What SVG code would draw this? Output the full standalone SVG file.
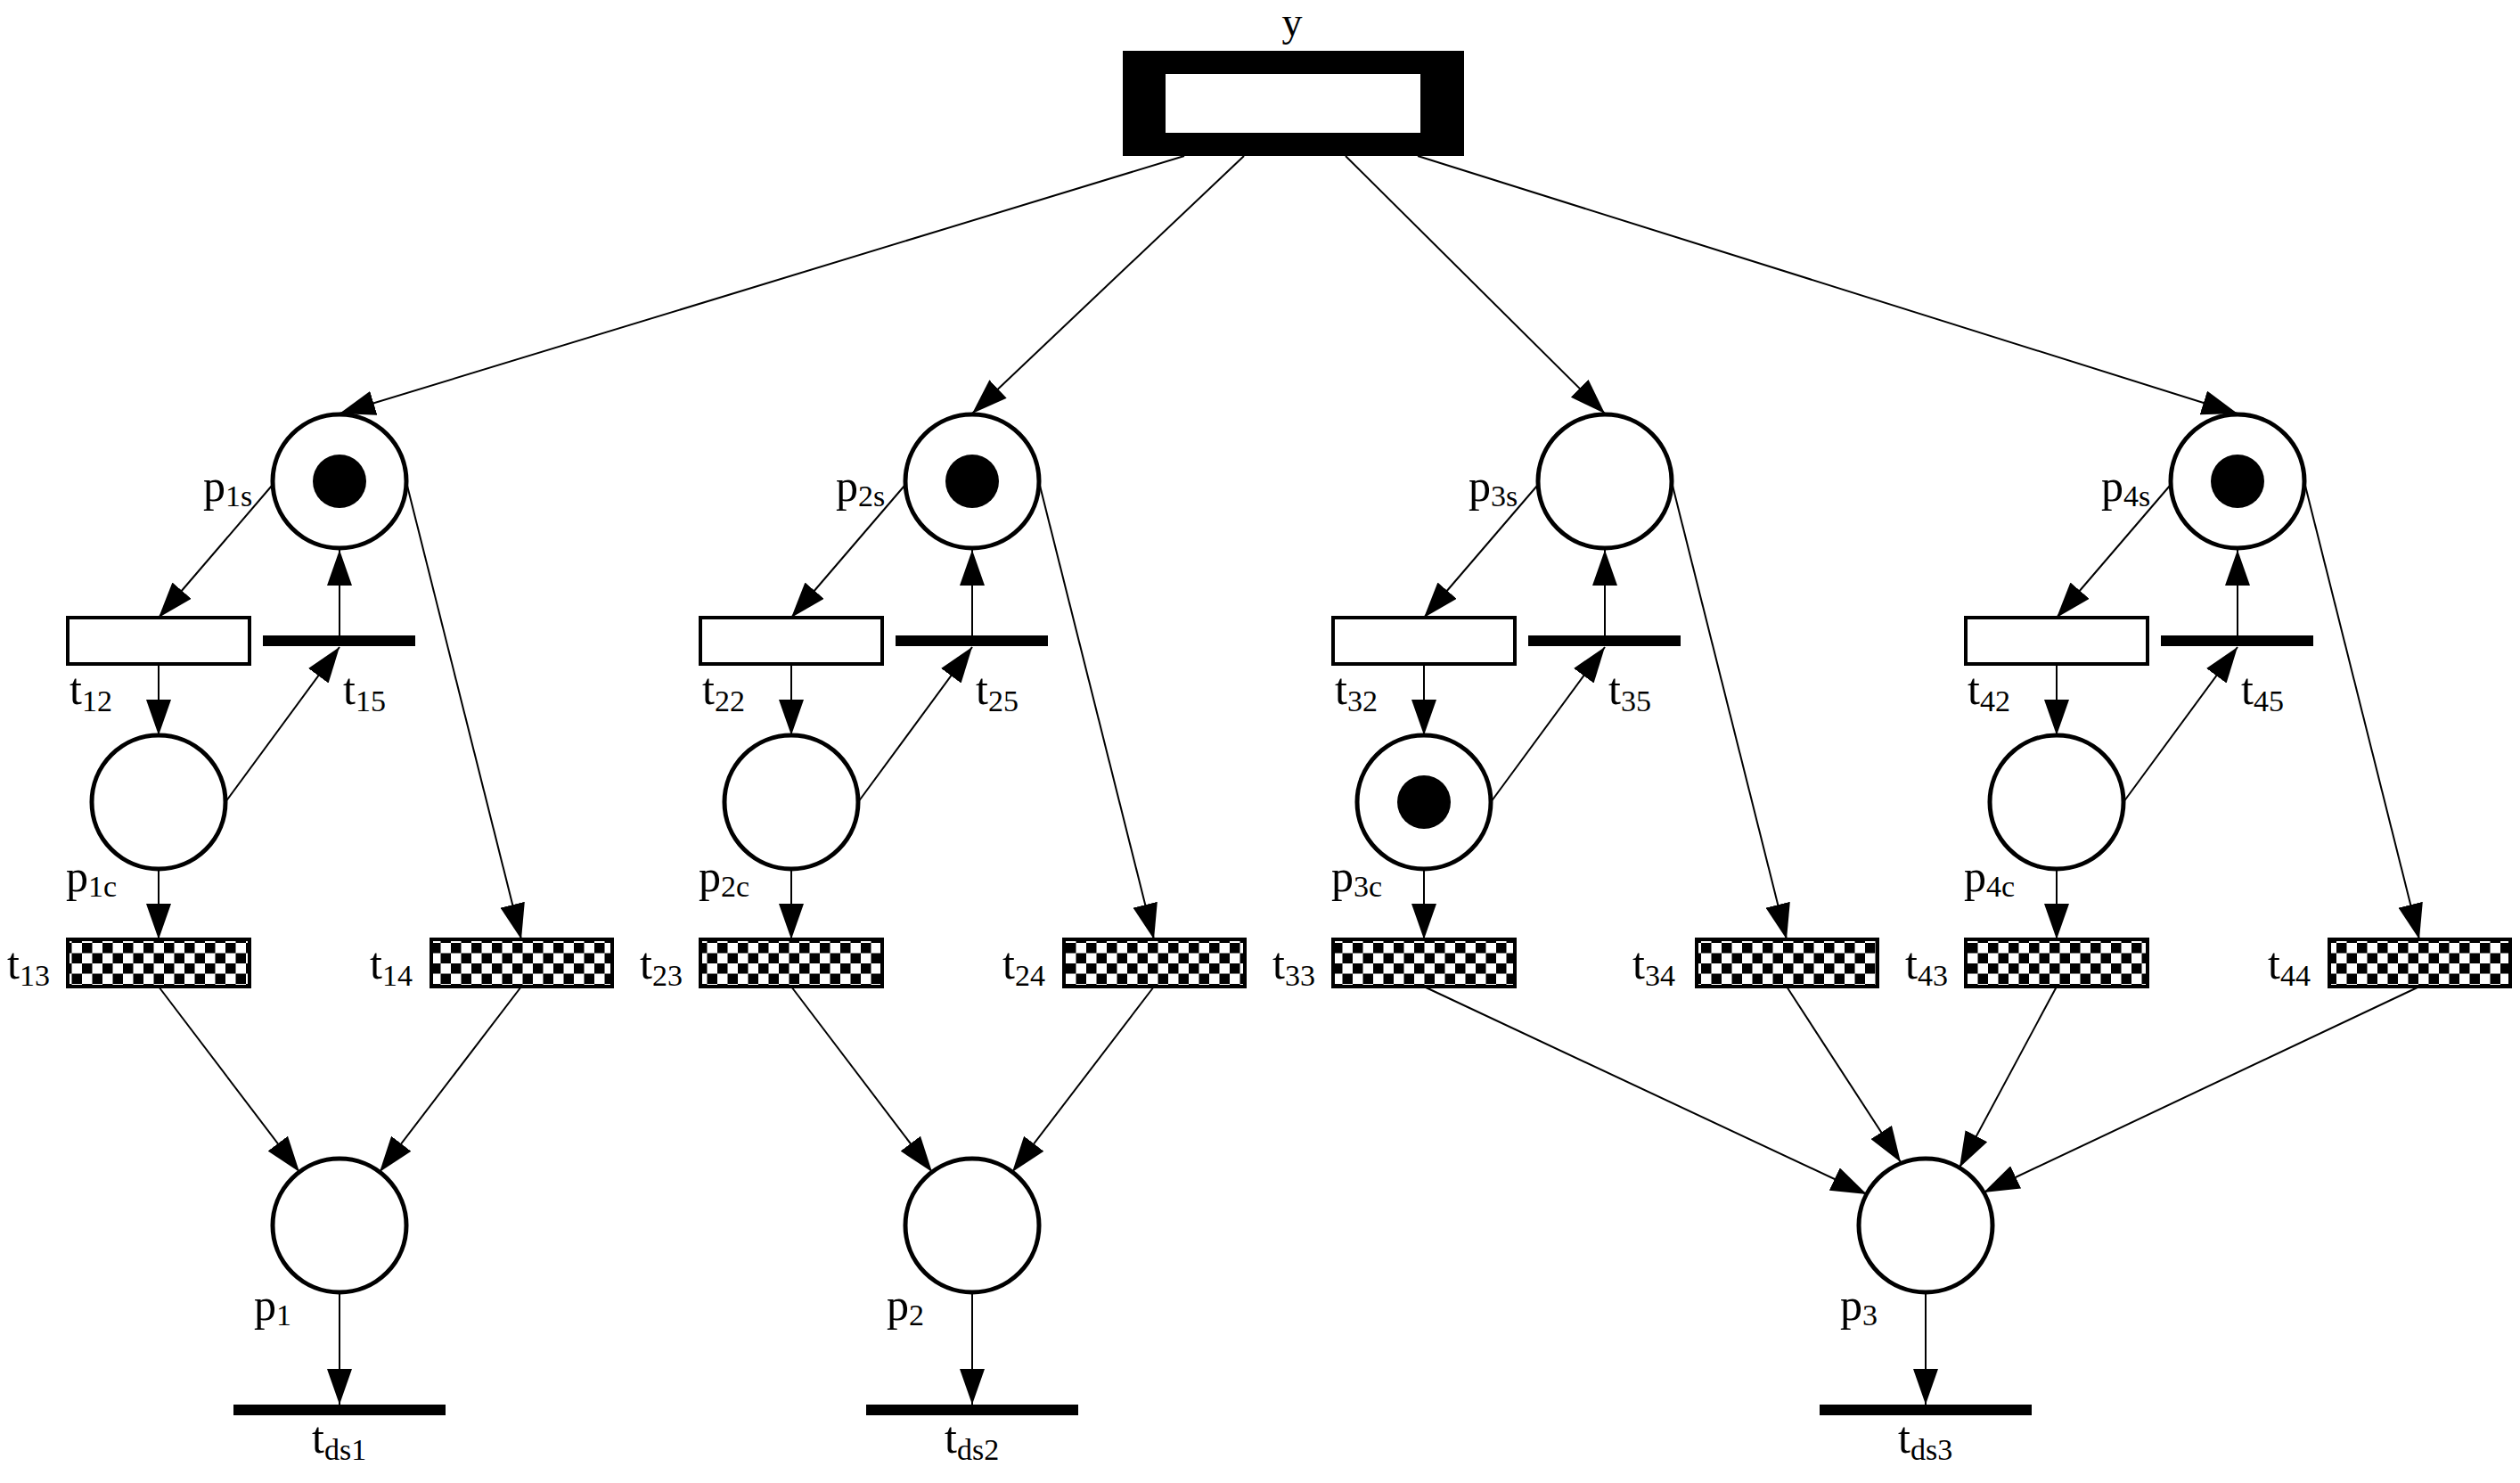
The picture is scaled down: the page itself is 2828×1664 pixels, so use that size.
<svg xmlns="http://www.w3.org/2000/svg" width="2828" height="1664" viewBox="0 0 2828 1664">
<defs>
<marker id="ah" markerUnits="userSpaceOnUse" markerWidth="40" markerHeight="28" refX="40" refY="14" orient="auto"><path d="M0,0 L40,14 L0,28 z" fill="#000"/></marker>
<pattern id="chk" patternUnits="userSpaceOnUse" width="23" height="23"><rect width="23" height="23" fill="#fff"/><rect width="11.5" height="11.5" fill="#000"/><rect x="11.5" y="11.5" width="11.5" height="11.5" fill="#000"/></pattern>
</defs>
<style>
.pl{fill:#fff;stroke:#000;stroke-width:5}
.tk{fill:#000}
.tw{fill:#fff;stroke:#000;stroke-width:4}
.tc{fill:url(#chk);stroke:#000;stroke-width:4}
.bar{fill:#000}
.c line{stroke:#000;stroke-width:2;marker-end:url(#ah)}
text{font-family:"Liberation Serif","Times New Roman",serif;font-size:50px;fill:#000}
tspan{font-size:34px}
</style>
<rect width="2828" height="1664" fill="#fff"/>
<g id="y"><rect x="1260" y="57" width="383" height="118" fill="#000"/><rect x="1308" y="83" width="286" height="66" fill="#fff"/><text x="1450" y="40" text-anchor="middle" style="font-size:46px">y</text></g>
<g class="c" id="connectors">
<line x1="1329" y1="175" x2="381" y2="464"/>
<line x1="1396" y1="175" x2="1091" y2="464"/>
<line x1="1510" y1="175" x2="1801" y2="464"/>
<line x1="1591" y1="175" x2="2511" y2="464"/>
<line x1="305" y1="545" x2="178" y2="693"/><line x1="381" y1="713" x2="381" y2="617"/><line x1="253" y1="900" x2="381" y2="726"/><line x1="457" y1="545" x2="585" y2="1054"/><line x1="178" y1="745" x2="178" y2="825"/><line x1="178" y1="975" x2="178" y2="1054"/><line x1="178" y1="1107" x2="336" y2="1315"/><line x1="585" y1="1107" x2="426" y2="1315"/><line x1="381" y1="1450" x2="381" y2="1576"/>
<line x1="1015" y1="545" x2="888" y2="693"/><line x1="1091" y1="713" x2="1091" y2="617"/><line x1="963" y1="900" x2="1091" y2="726"/><line x1="1167" y1="545" x2="1295" y2="1054"/><line x1="888" y1="745" x2="888" y2="825"/><line x1="888" y1="975" x2="888" y2="1054"/><line x1="888" y1="1107" x2="1046" y2="1315"/><line x1="1295" y1="1107" x2="1136" y2="1315"/><line x1="1091" y1="1450" x2="1091" y2="1576"/>
<line x1="1725" y1="545" x2="1598" y2="693"/><line x1="1801" y1="713" x2="1801" y2="617"/><line x1="1673" y1="900" x2="1801" y2="726"/><line x1="1877" y1="545" x2="2005" y2="1054"/><line x1="1598" y1="745" x2="1598" y2="825"/><line x1="1598" y1="975" x2="1598" y2="1054"/>
<line x1="2435" y1="545" x2="2308" y2="693"/><line x1="2511" y1="713" x2="2511" y2="617"/><line x1="2383" y1="900" x2="2511" y2="726"/><line x1="2587" y1="545" x2="2715" y2="1054"/><line x1="2308" y1="745" x2="2308" y2="825"/><line x1="2308" y1="975" x2="2308" y2="1054"/>
<line x1="1598" y1="1107" x2="2095" y2="1340"/><line x1="2005" y1="1107" x2="2133" y2="1304"/><line x1="2308" y1="1107" x2="2199" y2="1310"/><line x1="2715" y1="1107" x2="2226" y2="1338"/><line x1="2161" y1="1450" x2="2161" y2="1576"/>
</g>
<g id="col1">
<circle class="pl" cx="381" cy="540" r="75"/><circle class="tk" cx="381" cy="540" r="30"/><text x="228" y="562">p<tspan dy="6">1s</tspan></text>
<rect class="tw" x="76" y="693" width="204" height="52"/><text x="78" y="790">t<tspan dy="8">12</tspan></text>
<rect class="bar" x="295" y="713" width="171" height="12"/><text x="385" y="790">t<tspan dy="8">15</tspan></text>
<circle class="pl" cx="178" cy="900" r="75"/><text x="74" y="1000">p<tspan dy="6">1c</tspan></text>
<rect class="tc" x="76" y="1054" width="204" height="53"/><text x="8" y="1098">t<tspan dy="8">13</tspan></text>
<rect class="tc" x="484" y="1054" width="203" height="53"/><text x="415" y="1098">t<tspan dy="8">14</tspan></text>
<circle class="pl" cx="381" cy="1375" r="75"/><text x="285" y="1481">p<tspan dy="6">1</tspan></text>
<rect class="bar" x="262" y="1576" width="238" height="12"/><text x="350" y="1630">t<tspan dy="8">ds1</tspan></text>
</g>
<g id="col2">
<circle class="pl" cx="1091" cy="540" r="75"/><circle class="tk" cx="1091" cy="540" r="30"/><text x="938" y="562">p<tspan dy="6">2s</tspan></text>
<rect class="tw" x="786" y="693" width="204" height="52"/><text x="788" y="790">t<tspan dy="8">22</tspan></text>
<rect class="bar" x="1005" y="713" width="171" height="12"/><text x="1095" y="790">t<tspan dy="8">25</tspan></text>
<circle class="pl" cx="888" cy="900" r="75"/><text x="784" y="1000">p<tspan dy="6">2c</tspan></text>
<rect class="tc" x="786" y="1054" width="204" height="53"/><text x="718" y="1098">t<tspan dy="8">23</tspan></text>
<rect class="tc" x="1194" y="1054" width="203" height="53"/><text x="1125" y="1098">t<tspan dy="8">24</tspan></text>
<circle class="pl" cx="1091" cy="1375" r="75"/><text x="995" y="1481">p<tspan dy="6">2</tspan></text>
<rect class="bar" x="972" y="1576" width="238" height="12"/><text x="1060" y="1630">t<tspan dy="8">ds2</tspan></text>
</g>
<g id="col3">
<circle class="pl" cx="1801" cy="540" r="75"/><text x="1648" y="562">p<tspan dy="6">3s</tspan></text>
<rect class="tw" x="1496" y="693" width="204" height="52"/><text x="1498" y="790">t<tspan dy="8">32</tspan></text>
<rect class="bar" x="1715" y="713" width="171" height="12"/><text x="1805" y="790">t<tspan dy="8">35</tspan></text>
<circle class="pl" cx="1598" cy="900" r="75"/><circle class="tk" cx="1598" cy="900" r="30"/><text x="1494" y="1000">p<tspan dy="6">3c</tspan></text>
<rect class="tc" x="1496" y="1054" width="204" height="53"/><text x="1428" y="1098">t<tspan dy="8">33</tspan></text>
<rect class="tc" x="1904" y="1054" width="203" height="53"/><text x="1832" y="1098">t<tspan dy="8">34</tspan></text>
</g>
<g id="col4">
<circle class="pl" cx="2511" cy="540" r="75"/><circle class="tk" cx="2511" cy="540" r="30"/><text x="2358" y="562">p<tspan dy="6">4s</tspan></text>
<rect class="tw" x="2206" y="693" width="204" height="52"/><text x="2208" y="790">t<tspan dy="8">42</tspan></text>
<rect class="bar" x="2425" y="713" width="171" height="12"/><text x="2515" y="790">t<tspan dy="8">45</tspan></text>
<circle class="pl" cx="2308" cy="900" r="75"/><text x="2204" y="1000">p<tspan dy="6">4c</tspan></text>
<rect class="tc" x="2206" y="1054" width="204" height="53"/><text x="2138" y="1098">t<tspan dy="8">43</tspan></text>
<rect class="tc" x="2614" y="1054" width="203" height="53"/><text x="2545" y="1098">t<tspan dy="8">44</tspan></text>
</g>
<g id="p3">
<circle class="pl" cx="2161" cy="1375" r="75"/><text x="2065" y="1481">p<tspan dy="6">3</tspan></text>
<rect class="bar" x="2042" y="1576" width="238" height="12"/><text x="2130" y="1630">t<tspan dy="8">ds3</tspan></text>
</g>
</svg>
